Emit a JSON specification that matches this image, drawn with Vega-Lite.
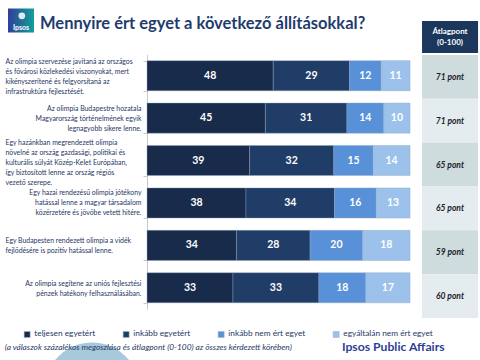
{
  "$schema": "https://vega.github.io/schema/vega-lite/v6.json",
  "width": 480,
  "height": 360,
  "padding": 0,
  "autosize": {"type": "none"},
  "background": "white",
  "config": {"view": {"stroke": null}},
  "title": {"text": "Mennyire ért egyet a következő állításokkal?", "anchor": "start", "frame": "group", "orient": "top", "offset": -49, "dx": 40, "baseline": "alphabetic", "font": "Lato", "fontSize": 16.5, "fontWeight": "bold", "color": "#1f3c6e"},
  "datasets": {
    "bars": [
      {"s": 1, "cat": "teljesen egyetért", "k": 1, "v": 48},
      {"s": 1, "cat": "inkább egyetért", "k": 2, "v": 29},
      {"s": 1, "cat": "inkább nem ért egyet", "k": 3, "v": 12},
      {"s": 1, "cat": "egyáltalán nem ért egyet", "k": 4, "v": 11},
      {"s": 2, "cat": "teljesen egyetért", "k": 1, "v": 45},
      {"s": 2, "cat": "inkább egyetért", "k": 2, "v": 31},
      {"s": 2, "cat": "inkább nem ért egyet", "k": 3, "v": 14},
      {"s": 2, "cat": "egyáltalán nem ért egyet", "k": 4, "v": 10},
      {"s": 3, "cat": "teljesen egyetért", "k": 1, "v": 39},
      {"s": 3, "cat": "inkább egyetért", "k": 2, "v": 32},
      {"s": 3, "cat": "inkább nem ért egyet", "k": 3, "v": 15},
      {"s": 3, "cat": "egyáltalán nem ért egyet", "k": 4, "v": 14},
      {"s": 4, "cat": "teljesen egyetért", "k": 1, "v": 38},
      {"s": 4, "cat": "inkább egyetért", "k": 2, "v": 34},
      {"s": 4, "cat": "inkább nem ért egyet", "k": 3, "v": 16},
      {"s": 4, "cat": "egyáltalán nem ért egyet", "k": 4, "v": 13},
      {"s": 5, "cat": "teljesen egyetért", "k": 1, "v": 34},
      {"s": 5, "cat": "inkább egyetért", "k": 2, "v": 28},
      {"s": 5, "cat": "inkább nem ért egyet", "k": 3, "v": 20},
      {"s": 5, "cat": "egyáltalán nem ért egyet", "k": 4, "v": 18},
      {"s": 6, "cat": "teljesen egyetért", "k": 1, "v": 33},
      {"s": 6, "cat": "inkább egyetért", "k": 2, "v": 33},
      {"s": 6, "cat": "inkább nem ért egyet", "k": 3, "v": 18},
      {"s": 6, "cat": "egyáltalán nem ért egyet", "k": 4, "v": 17}
    ],
    "stmts": [
      {"s": 1, "label": "Az olimpia szervezése javítaná az országos|és fővárosi közlekedési viszonyokat, mert|kikényszerítené és felgyorsítaná az|infrastruktúra fejlesztését.", "avg": 71},
      {"s": 2, "label": "Az olimpia Budapestre hozatala|Magyarország történelmének egyik|legnagyobb sikere lenne.", "avg": 71},
      {"s": 3, "label": "Egy hazánkban megrendezett olimpia|növelné az ország gazdasági, politikai és|kulturális súlyát Közép-Kelet Európában,|így biztosított lenne az ország régiós|vezető szerepe.", "avg": 65},
      {"s": 4, "label": "Egy hazai rendezésű olimpia jótékony|hatással lenne a magyar társadalom|közérzetére és jövőbe vetett hitére.", "avg": 65},
      {"s": 5, "label": "Egy Budapesten rendezett olimpia a vidék|fejlődésére is pozitív hatással lenne.", "avg": 59},
      {"s": 6, "label": "Az olimpia segítene az uniós fejlesztési|pénzek hatékony felhasználásában.", "avg": 60}
    ]
  },
  "resolve": {"scale": {"y": "independent"}},
  "layer": [
    {
      "data": {"values": [{"name": "page"}]},
      "encoding": {
        "y": {"datum": 5.83, "type": "quantitative", "scale": {"domain": [0, 100], "range": [0, 360]}, "axis": null}
      },
      "layer": [
        {
          "mark": {"type": "arc", "radius": 48, "color": "#a8c9dc"},
          "encoding": {"x": {"datum": -0.209, "type": "quantitative"}, "y": {"datum": 108.5}}
        },
        {
          "mark": {"type": "rect", "color": "#1b375c"},
          "encoding": {"x": {"datum": 1.0456, "type": "quantitative"}, "x2": {"datum": 1.2586}, "y2": {"datum": 14.72}}
        },
        {
          "mark": {"type": "text", "text": ["Átlagpont", "(0-100)"], "font": "Lato", "fontSize": 8, "fontWeight": "bold", "color": "white", "lineHeight": 11, "baseline": "middle"},
          "encoding": {"x": {"datum": 1.152, "type": "quantitative"}, "y": {"datum": 9.0}}
        },
        {
          "mark": {"type": "rect", "color": {"gradient": "linear", "x1": 0, "y1": 0, "x2": 1, "y2": 0, "stops": [{"offset": 0, "color": "#2f3f98"}, {"offset": 1, "color": "#139e9c"}]}},
          "encoding": {"x": {"datum": -0.5285, "type": "quantitative"}, "x2": {"datum": -0.4297}, "y": {"datum": 2.36}, "y2": {"datum": 9.03}}
        },
        {
          "mark": {"type": "point", "shape": "circle", "filled": true, "size": 45, "color": "white", "opacity": 0.85},
          "encoding": {"x": {"datum": -0.476, "type": "quantitative"}, "y": {"datum": 4.4}}
        },
        {
          "mark": {"type": "text", "text": "Ipsos", "font": "Lato", "fontSize": 7, "fontWeight": "bold", "color": "white", "baseline": "middle"},
          "encoding": {"x": {"datum": -0.479, "type": "quantitative"}, "y": {"datum": 7.8}}
        },
        {
          "mark": {"type": "text", "text": "(a válaszok százalékos megoszlása és átlagpont (0-100) az összes kérdezett körében)", "font": "Lato", "fontSize": 8.3, "fontStyle": "italic", "color": "#1f3864", "align": "left", "baseline": "middle"},
          "encoding": {"x": {"datum": -0.541, "type": "quantitative"}, "y": {"datum": 96.7}}
        },
        {
          "mark": {"type": "text", "text": "Ipsos Public Affairs", "font": "Lato", "fontSize": 12.2, "fontWeight": "bold", "color": "#2b3f94", "align": "left", "baseline": "middle"},
          "encoding": {"x": {"datum": 0.741, "type": "quantitative"}, "y": {"datum": 96.4}}
        }
      ]
    },
    {
      "data": {"name": "bars"},
      "transform": [
        {"lookup": "s", "from": {"data": {"name": "stmts"}, "key": "s", "fields": ["label"]}}
      ],
      "encoding": {
        "y": {
          "field": "label", "type": "nominal", "sort": {"field": "s"},
          "scale": {"range": [54.5, 309], "paddingInner": 0.29, "paddingOuter": 0.145},
          "axis": {
            "orient": "left", "offset": -147, "title": null,
            "domainColor": "#c8c8c8", "tickColor": "#c8c8c8", "tickBand": "extent", "tickSize": 4,
            "labelExpr": "split(datum.label, '|')",
            "labelFont": "Lato", "labelFontSize": 6.9, "labelColor": "#1f3864", "labelLineHeight": 10, "labelLimit": 0,
            "labelBaseline": "middle",
            "labelAlign": {"condition": {"test": "round(datum.index*5) % 2 == 0", "value": "left"}, "value": "right"},
            "labelPadding": {"condition": {"test": "round(datum.index*5) % 2 == 0", "value": 138}, "value": 2},
            "labelOffset": {"condition": [
              {"test": "round(datum.index*5) == 0", "value": -14},
              {"test": "round(datum.index*5) == 2", "value": -18},
              {"test": "round(datum.index*5) == 4", "value": -5},
              {"test": "round(datum.index*5) == 5", "value": -4}
            ], "value": -10}
          }
        }
      },
      "layer": [
        {
          "mark": {"type": "bar", "stroke": "#8fa3bf", "strokeWidth": 0.4},
          "encoding": {
            "x": {"field": "v", "type": "quantitative", "stack": "normalize", "scale": {"domain": [-0.559, 1.266], "nice": false, "zero": false}, "axis": null},
            "order": {"field": "k"},
            "color": {
              "field": "cat", "type": "nominal",
              "scale": {"domain": ["teljesen egyetért", "inkább egyetért", "inkább nem ért egyet", "egyáltalán nem ért egyet"], "range": ["#182b4b", "#1f3d66", "#5891d8", "#9cc2ec"]},
              "legend": {
                "orient": "none", "legendX": 23, "legendY": 330, "direction": "horizontal", "title": null,
                "symbolType": "square", "symbolSize": 36, "symbolStrokeColor": "#9fb4cc", "symbolStrokeWidth": 0.6,
                "labelFont": "Lato", "labelFontSize": 8.3, "labelColor": "#1f3864", "labelOffset": 3, "columnPadding": 25
              }
            }
          }
        },
        {
          "mark": {"type": "text", "font": "Lato", "fontSize": 10.5, "fontWeight": "bold", "color": "white", "baseline": "middle"},
          "encoding": {
            "x": {"field": "v", "type": "quantitative", "stack": "normalize", "bandPosition": 0.5},
            "order": {"field": "k"},
            "detail": {"field": "cat"},
            "text": {"field": "v", "type": "quantitative"}
          }
        }
      ]
    },
    {
      "data": {"name": "stmts"},
      "transform": [{"calculate": "datum.avg + ' pont'", "as": "avgLabel"}],
      "encoding": {
        "y": {"field": "s", "type": "ordinal", "scale": {"range": [55, 318], "paddingInner": 0, "paddingOuter": 0}, "axis": null}
      },
      "layer": [
        {
          "mark": {"type": "rect"},
          "encoding": {
            "x": {"datum": 1.0456, "type": "quantitative"},
            "x2": {"datum": 1.2586},
            "fill": {"condition": {"test": "datum.s % 2 == 1", "value": "#cedcdd"}, "value": "#e5ecef"}
          }
        },
        {
          "mark": {"type": "text", "font": "Lato", "fontSize": 8.5, "fontStyle": "italic", "fontWeight": "bold", "color": "#1c1c2c", "baseline": "middle"},
          "encoding": {
            "x": {"datum": 1.152, "type": "quantitative"},
            "text": {"field": "avgLabel"}
          }
        }
      ]
    }
  ]
}
